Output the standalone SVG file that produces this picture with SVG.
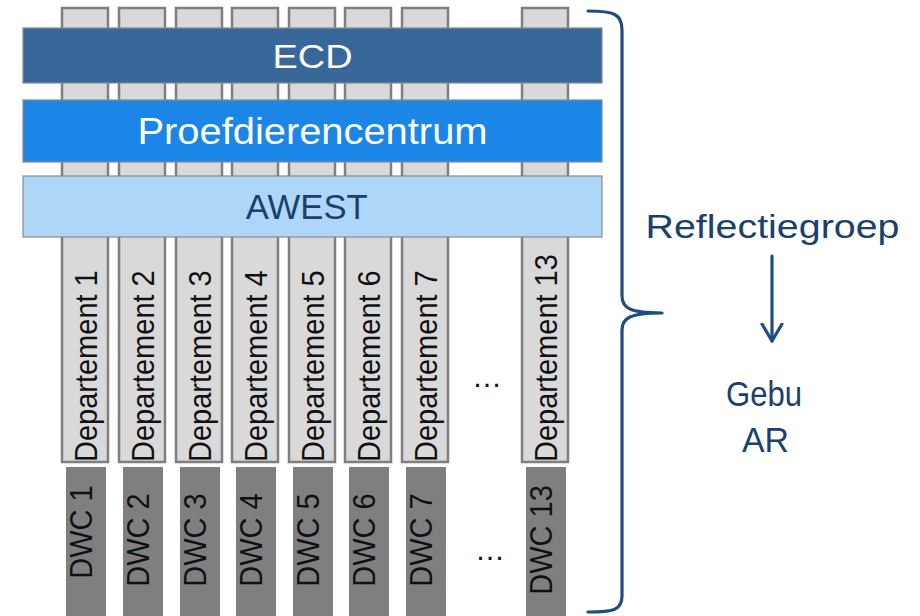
<svg xmlns="http://www.w3.org/2000/svg" width="920" height="616" viewBox="0 0 920 616">
<defs>
<style>
.col{fill:#d9d9d9;stroke:#7f7f7f;stroke-width:2.5}
.dwc{fill:#7f7f7f}
.bar{stroke:#8a8a8a;stroke-width:1.2}
.t{font-family:"Liberation Sans",Arial,sans-serif}
.vt{font-family:"Liberation Sans",Arial,sans-serif;font-size:29px;fill:#111111}
.navy{fill:#1b3f6e}
.ln{stroke:#1f4f82;stroke-width:3.2;fill:none;stroke-linecap:round}
</style>
<marker id="chev" viewBox="0 0 20 24" refX="18" refY="12" markerWidth="20" markerHeight="24" markerUnits="userSpaceOnUse" orient="auto">
<polyline points="1,2 18,12 1,22" fill="none" stroke="#1f4f82" stroke-width="3.2" stroke-linecap="round" stroke-linejoin="round"/>
</marker>
</defs>
<rect width="920" height="616" fill="#ffffff"/>

<g id="dept1"><rect class="col" x="62" y="8" width="46" height="454"/><text class="vt" transform="translate(97,462) rotate(-90) scale(1,1.1)">Departement 1</text></g>
<g id="dept2"><rect class="col" x="119" y="8" width="46" height="454"/><text class="vt" transform="translate(154,462) rotate(-90) scale(1,1.1)">Departement 2</text></g>
<g id="dept3"><rect class="col" x="176" y="8" width="46" height="454"/><text class="vt" transform="translate(211,462) rotate(-90) scale(1,1.1)">Departement 3</text></g>
<g id="dept4"><rect class="col" x="232" y="8" width="46" height="454"/><text class="vt" transform="translate(267,462) rotate(-90) scale(1,1.1)">Departement 4</text></g>
<g id="dept5"><rect class="col" x="289" y="8" width="46" height="454"/><text class="vt" transform="translate(324,462) rotate(-90) scale(1,1.1)">Departement 5</text></g>
<g id="dept6"><rect class="col" x="345" y="8" width="46" height="454"/><text class="vt" transform="translate(380,462) rotate(-90) scale(1,1.1)">Departement 6</text></g>
<g id="dept7"><rect class="col" x="402" y="8" width="46" height="454"/><text class="vt" transform="translate(437,462) rotate(-90) scale(1,1.1)">Departement 7</text></g>
<g id="dept13"><rect class="col" x="522" y="8" width="46" height="454"/><text class="vt" transform="translate(557,462) rotate(-90) scale(1,1.1)">Departement 13</text></g>
<g id="dots1"><text class="t" x="487" y="387" font-size="30" text-anchor="middle" fill="#111111">…</text></g>

<g id="ecd"><rect class="bar" x="23" y="28" width="579" height="55" fill="#38689a"/><text class="t" x="312.5" y="68" font-size="34" text-anchor="middle" fill="#ffffff" textLength="80" lengthAdjust="spacingAndGlyphs">ECD</text></g>
<g id="proefdierencentrum"><rect class="bar" x="23" y="100" width="579" height="62" fill="#1b86e8"/><text class="t" x="312.5" y="144" font-size="36" text-anchor="middle" fill="#ffffff" textLength="350" lengthAdjust="spacingAndGlyphs">Proefdierencentrum</text></g>
<g id="awest"><rect class="bar" x="23" y="176" width="579" height="61" fill="#aed7f7"/><text class="t navy" x="306.7" y="219" font-size="35" text-anchor="middle" textLength="122" lengthAdjust="spacingAndGlyphs">AWEST</text></g>

<g id="dwc1"><rect class="dwc" x="66" y="467" width="40" height="149"/><text class="vt" text-anchor="middle" transform="translate(92,532) rotate(-90) scale(1,1.1)">DWC 1</text></g>
<g id="dwc2"><rect class="dwc" x="123" y="467" width="40" height="149"/><text class="vt" text-anchor="middle" transform="translate(149,540) rotate(-90) scale(1,1.1)">DWC 2</text></g>
<g id="dwc3"><rect class="dwc" x="180" y="467" width="40" height="149"/><text class="vt" text-anchor="middle" transform="translate(206,540) rotate(-90) scale(1,1.1)">DWC 3</text></g>
<g id="dwc4"><rect class="dwc" x="236" y="467" width="40" height="149"/><text class="vt" text-anchor="middle" transform="translate(262,540) rotate(-90) scale(1,1.1)">DWC 4</text></g>
<g id="dwc5"><rect class="dwc" x="293" y="467" width="40" height="149"/><text class="vt" text-anchor="middle" transform="translate(319,540) rotate(-90) scale(1,1.1)">DWC 5</text></g>
<g id="dwc6"><rect class="dwc" x="349" y="467" width="40" height="149"/><text class="vt" text-anchor="middle" transform="translate(375,540) rotate(-90) scale(1,1.1)">DWC 6</text></g>
<g id="dwc7"><rect class="dwc" x="406" y="467" width="40" height="149"/><text class="vt" text-anchor="middle" transform="translate(432,540) rotate(-90) scale(1,1.1)">DWC 7</text></g>
<g id="dwc13"><rect class="dwc" x="526" y="467" width="40" height="149"/><text class="vt" text-anchor="middle" transform="translate(552,540) rotate(-90) scale(1,1.1)">DWC 13</text></g>
<g id="dots2"><text class="t" x="490" y="560" font-size="30" text-anchor="middle" fill="#111111">…</text></g>

<g id="brace"><path class="ln" d="M588,11 C614,11 622,14 622,30 L622,296 C622,308 630,313 662,313 M662,313 C630,313 622,318 622,330 L622,596 C622,610 614,612 588,612"/></g>

<g id="reflectiegroep"><text class="t navy" x="772.5" y="238" font-size="33" text-anchor="middle" textLength="254" lengthAdjust="spacingAndGlyphs">Reflectiegroep</text></g>
<g id="gebu-ar"><text class="t navy" x="764" y="406" font-size="35" text-anchor="middle" textLength="76" lengthAdjust="spacingAndGlyphs">Gebu</text><text class="t navy" x="765.5" y="452" font-size="35" text-anchor="middle" textLength="47" lengthAdjust="spacingAndGlyphs">AR</text></g>

<g id="connectors"><line class="ln" x1="772" y1="256" x2="772" y2="341" marker-end="url(#chev)"/></g>
</svg>
